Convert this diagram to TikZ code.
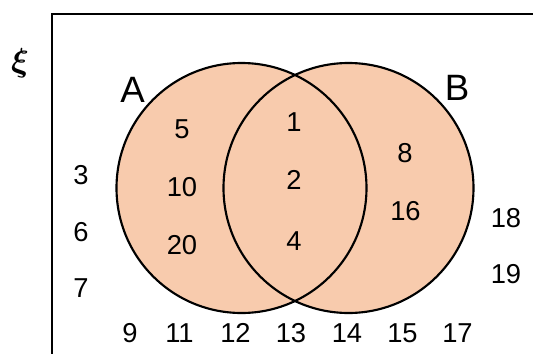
\documentclass[tikz,border=0pt]{standalone}
\usepackage{amsmath}
\usepackage{bm}
\usepackage{fontspec}
\setmainfont{Liberation Sans}
\usetikzlibrary{calc}
\definecolor{peach}{HTML}{F8CBAD}
\tikzset{
  num/.style={font=\fontsize{20.5}{23}\selectfont, inner sep=0pt},
  setname/.style={font=\fontsize{27.5}{30}\selectfont, inner sep=0pt},
  vennset/.style={circle, minimum size=187.5pt, inner sep=0pt, line width=1.6pt}
}
\begin{document}
\begin{tikzpicture}[x=0.75pt,y=-0.75pt]
    \useasboundingbox (0,0) rectangle (533,354);
    \clip (0,0) rectangle (533,354);
    \coordinate (topleft) at (52,14);
    \coordinate (cA) at (241.5,188);
    \coordinate (cB) at (348.5,188);

    % universal set
    \draw[line width=2.2pt] (topleft) rectangle (560,380);
    \node[font=\fontsize{27}{30}\selectfont, inner sep=0pt] (xi) at (20,63) {$\bm{\xi}$};

    % the two sets
    \node[vennset, fill=peach] (setA) at (cA) {};
    \node[vennset, fill=peach] (setB) at (cB) {};
    \node[vennset, draw] (edgeA) at (cA) {};
    \node[vennset, draw] (edgeB) at (cB) {};
    \node[setname] (labelA) at (132.5,90) {A};
    \node[setname] (labelB) at (457,88) {B};

    % A only
    \node[num] (n5) at (182,129) {5};
    \node[num] (n10) at (182,187.5) {10};
    \node[num] (n20) at (182,245) {20};
    % A and B
    \node[num] (n1) at (294,122) {1};
    \node[num] (n2) at (294,180) {2};
    \node[num] (n4) at (294,241) {4};
    % B only
    \node[num] (n8) at (405,153) {8};
    \node[num] (n16) at (405.5,211) {16};
    % outside
    \node[num] (n3) at (81,175) {3};
    \node[num] (n6) at (81,232.5) {6};
    \node[num] (n7) at (81,288) {7};
    \node[num] (n18) at (506,218) {18};
    \node[num] (n19) at (506,274) {19};
    \node[num] (n9) at (130,333) {9};
    \node[num] (n11) at (179.5,333) {11};
    \node[num] (n12) at (235.5,333) {12};
    \node[num] (n13) at (291,333) {13};
    \node[num] (n14) at (347,333) {14};
    \node[num] (n15) at (402.5,333) {15};
    \node[num] (n17) at (457.5,333) {17};
\end{tikzpicture}
\end{document}
